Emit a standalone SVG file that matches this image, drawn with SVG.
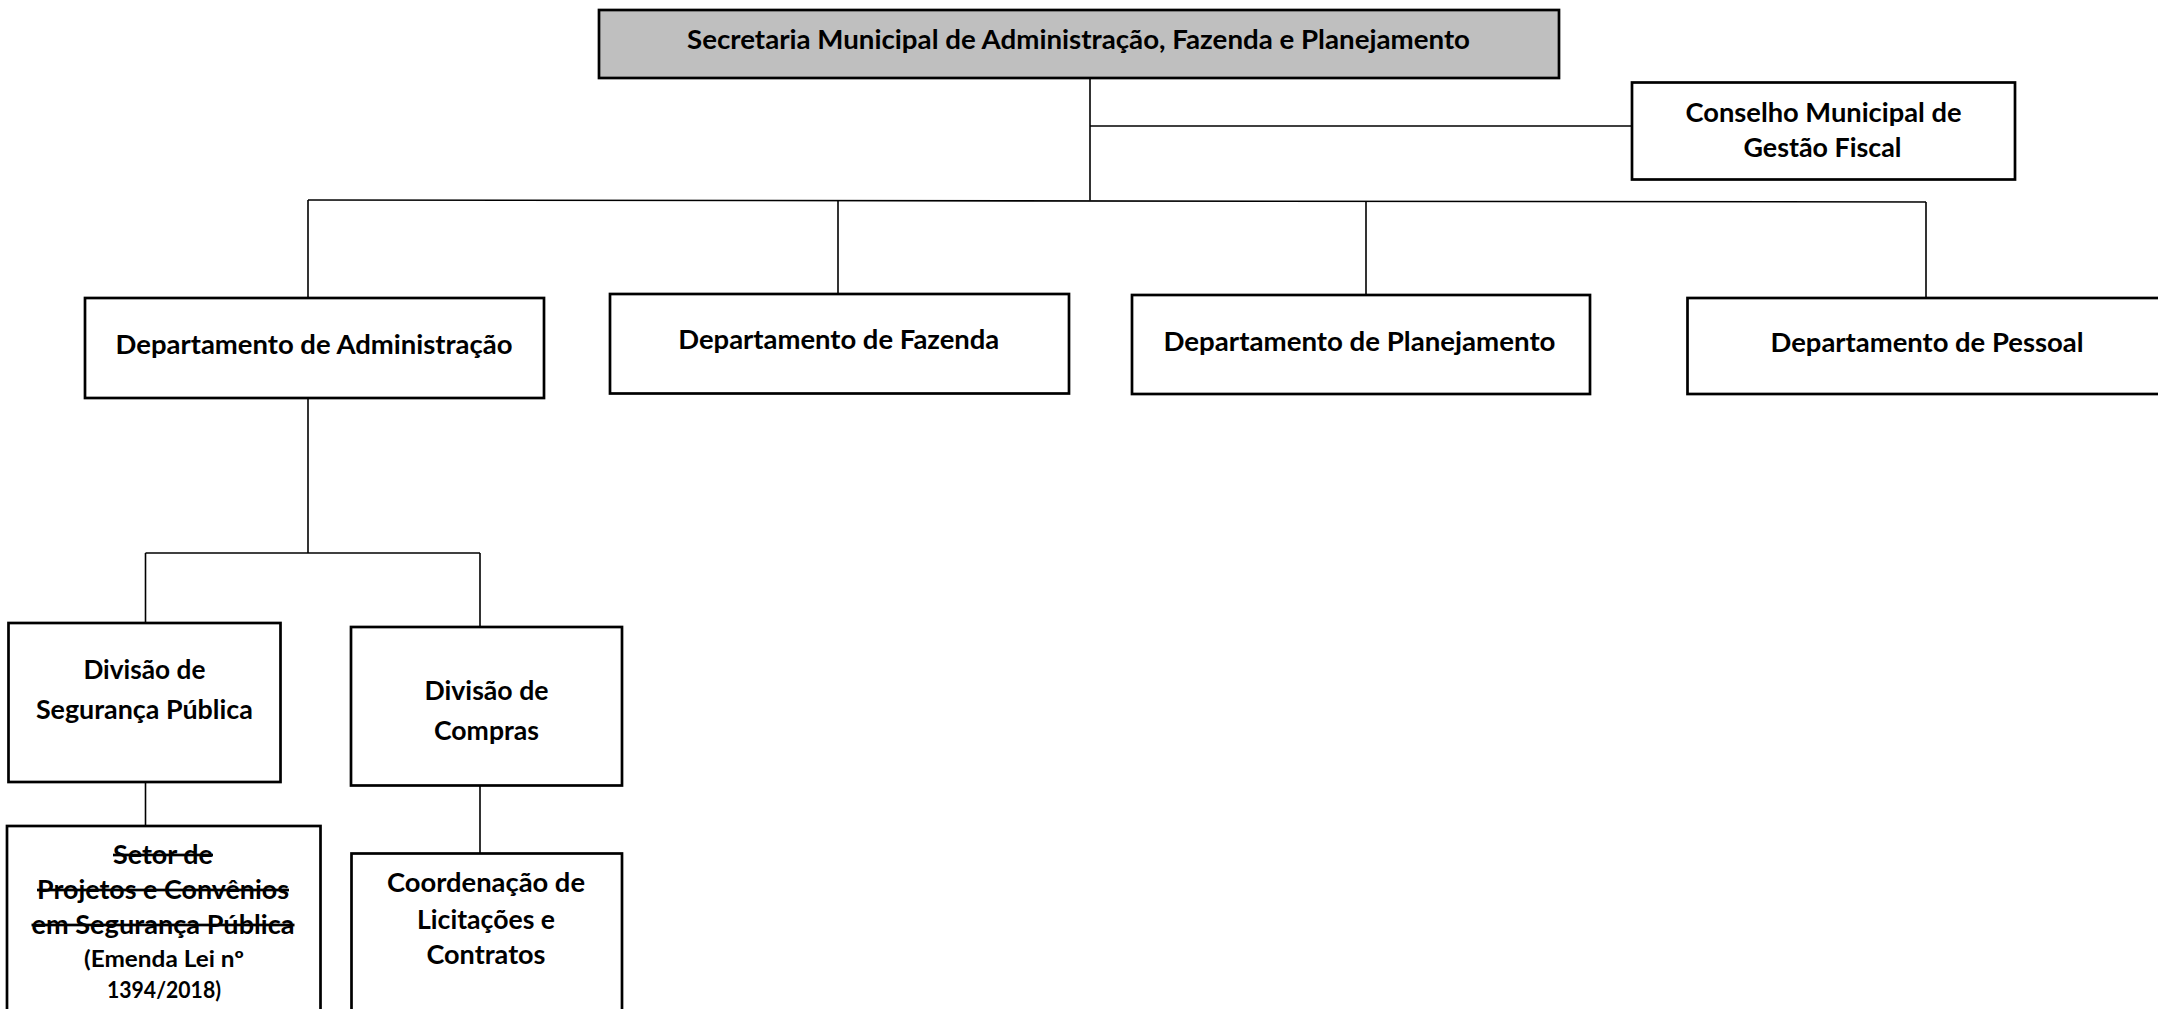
<svg xmlns="http://www.w3.org/2000/svg" width="2158" height="1009" viewBox="0 0 2158 1009">
<style>
.box{fill:#fff;stroke:#000;stroke-width:2.7}
.top{fill:#bfbfbf}
.t{font-family:Lato,"Liberation Sans",sans-serif;font-weight:700;font-size:27px;fill:#000;text-anchor:middle}
.s{font-size:22px}
.x{text-decoration:line-through}
.c{fill:none;stroke:#000;stroke-width:1.6}
</style>
<rect width="2158" height="1009" fill="#fff"/>
<g id="connectors">
<line class="c" x1="1090" y1="78" x2="1090" y2="200.5"/>
<line class="c" x1="1090" y1="126" x2="1632" y2="126"/>
<line class="c" x1="308" y1="200" x2="1926" y2="202"/>
<line class="c" x1="308" y1="200" x2="308" y2="298"/>
<line class="c" x1="838" y1="200.6" x2="838" y2="294"/>
<line class="c" x1="1366" y1="201.3" x2="1366" y2="295"/>
<line class="c" x1="1926" y1="202" x2="1926" y2="298"/>
<line class="c" x1="308" y1="398" x2="308" y2="553"/>
<line class="c" x1="145.5" y1="553" x2="480" y2="553"/>
<line class="c" x1="145.5" y1="553" x2="145.5" y2="623"/>
<line class="c" x1="480" y1="553" x2="480" y2="627"/>
<line class="c" x1="145.5" y1="782" x2="145.5" y2="826"/>
<line class="c" x1="480" y1="785.5" x2="480" y2="853.5"/>
</g>
<g id="secretaria">
<rect class="box top" x="599" y="10" width="960" height="68"/>
<text class="t" x="1078.5" y="49" textLength="783" lengthAdjust="spacingAndGlyphs">Secretaria Municipal de Administração, Fazenda e Planejamento</text>
</g>
<g id="conselho">
<rect class="box" x="1632" y="82.5" width="383" height="97"/>
<text class="t" x="1823.5" y="121.5" textLength="276" lengthAdjust="spacingAndGlyphs">Conselho Municipal de</text>
<text class="t" x="1822.5" y="157" textLength="158" lengthAdjust="spacingAndGlyphs">Gestão Fiscal</text>
</g>
<g id="dep-administracao">
<rect class="box" x="85" y="298" width="459" height="100"/>
<text class="t" x="314" y="354" textLength="397" lengthAdjust="spacingAndGlyphs">Departamento de Administração</text>
</g>
<g id="dep-fazenda">
<rect class="box" x="610" y="294" width="459" height="99.5"/>
<text class="t" x="838.8" y="348.5" textLength="321" lengthAdjust="spacingAndGlyphs">Departamento de Fazenda</text>
</g>
<g id="dep-planejamento">
<rect class="box" x="1132" y="295" width="458" height="99"/>
<text class="t" x="1359.5" y="350.5" textLength="392" lengthAdjust="spacingAndGlyphs">Departamento de Planejamento</text>
</g>
<g id="dep-pessoal">
<rect class="box" x="1687.5" y="298" width="480" height="96"/>
<text class="t" x="1927" y="352" textLength="313" lengthAdjust="spacingAndGlyphs">Departamento de Pessoal</text>
</g>
<g id="div-seguranca">
<rect class="box" x="8.5" y="623" width="272" height="159"/>
<text class="t" x="144.4" y="679" textLength="122" lengthAdjust="spacingAndGlyphs">Divisão de</text>
<text class="t" x="144.4" y="719" textLength="217" lengthAdjust="spacingAndGlyphs">Segurança Pública</text>
</g>
<g id="div-compras">
<rect class="box" x="351" y="627" width="271" height="158.5"/>
<text class="t" x="486.5" y="700" textLength="124" lengthAdjust="spacingAndGlyphs">Divisão de</text>
<text class="t" x="486.5" y="740" textLength="105" lengthAdjust="spacingAndGlyphs">Compras</text>
</g>
<g id="setor-projetos">
<rect class="box" x="7" y="826" width="313.5" height="200"/>
<text class="t x" x="163" y="864" textLength="100" lengthAdjust="spacingAndGlyphs">Setor de</text>
<text class="t x" x="163" y="899" textLength="252" lengthAdjust="spacingAndGlyphs">Projetos e Convênios</text>
<text class="t x" x="163" y="934" textLength="263" lengthAdjust="spacingAndGlyphs">em Segurança Pública</text>
<text class="t s" x="164" y="967" textLength="160" lengthAdjust="spacingAndGlyphs">(Emenda Lei nº</text>
<text class="t s" x="164" y="998" textLength="114" lengthAdjust="spacingAndGlyphs">1394/2018)</text>
</g>
<g id="coordenacao">
<rect class="box" x="351.5" y="853.5" width="270.5" height="180"/>
<text class="t" x="486" y="892" textLength="198" lengthAdjust="spacingAndGlyphs">Coordenação de</text>
<text class="t" x="486" y="928.5" textLength="138" lengthAdjust="spacingAndGlyphs">Licitações e</text>
<text class="t" x="486" y="964" textLength="119" lengthAdjust="spacingAndGlyphs">Contratos</text>
</g>
</svg>
